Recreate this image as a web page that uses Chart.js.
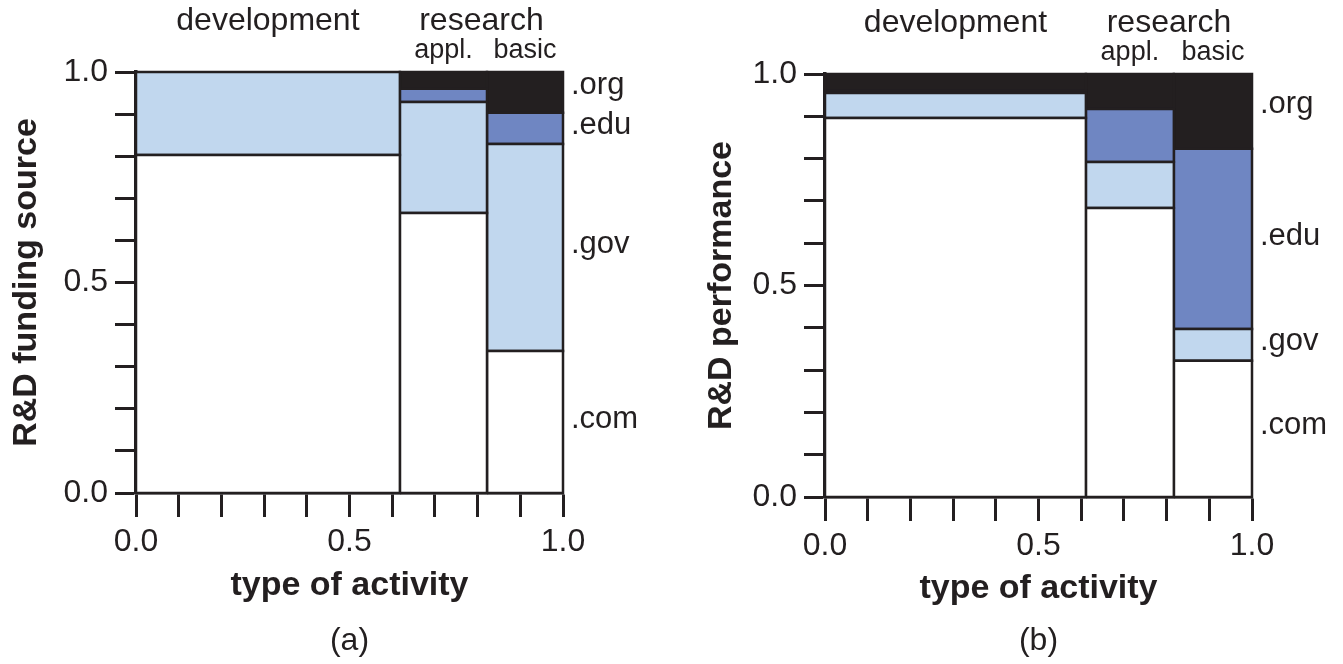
<!DOCTYPE html>
<html>
<head>
<meta charset="utf-8">
<script src="https://cdn.jsdelivr.net/npm/chart.js@4/dist/chart.umd.min.js"></script>
<style>
  html, body { margin: 0; padding: 0; background: #ffffff; }
  body { width: 1343px; height: 664px; position: relative; overflow: hidden; }
  .panel { position: absolute; top: 0; }
</style>
</head>
<body>
<div class="panel" style="left:0px;"><canvas id="chartA" width="660" height="664"></canvas></div>
<div class="panel" style="left:689px;"><canvas id="chartB" width="654" height="664"></canvas></div>
<script>
// column labels and sector names
const activities = ['development', 'appl.', 'basic'];
const researchLabel = 'research';
const sectors = ['.com', '.gov', '.edu', '.org'];
const sectorColors = ['#ffffff', '#c1d7ee', '#6f86c2', '#231f20'];
const tickValues = [0, 0.1, 0.2, 0.3, 0.4, 0.5, 0.6, 0.7, 0.8, 0.9, 1.0];
const tickLabels = ['0.0', '0.5', '1.0'];

// (a) R&D funding source - column widths and share of each sector
const fundingWidth = [0.618, 0.204, 0.178];
const fundingCom = [0.803, 0.665, 0.337];
const fundingGov = [0.197, 0.264, 0.492];
const fundingEdu = [0.000, 0.031, 0.074];
const fundingOrg = [0.000, 0.040, 0.097];

// (b) R&D performance
const perfWidth = [0.611, 0.206, 0.183];
const perfCom = [0.896, 0.683, 0.322];
const perfGov = [0.059, 0.109, 0.075];
const perfEdu = [0.005, 0.125, 0.426];
const perfOrg = [0.040, 0.083, 0.177];

const ink = '#231f20';
const fontFamily = '"Liberation Sans", Arial, Helvetica, sans-serif';

function buildDatasets(widths, shares) {
    let datasets = [];
    let x0 = 0;
    widths.forEach((w, col) => {
        let x1 = x0 + w;
        let y0 = 0;
        shares.forEach((series, s) => {
            let v = series[col];
            let y1 = y0 + v;
            if (v > 0) {
                datasets.push({
                    label: activities[col] + ' ' + sectors[s],
                    data: [
                        {x: x0, y: y0}, {x: x0, y: y1}, {x: x1, y: y1},
                        {x: x1, y: y0}, {x: x0, y: y0}
                    ],
                    fill: 'shape',
                    backgroundColor: sectorColors[s],
                    borderColor: s === 3 ? sectorColors[s] : ink,
                    borderWidth: 2.5,
                    pointRadius: 0,
                    tension: 0,
                    clip: 3
                });
            }
            y0 = y1;
        });
        x0 = x1;
    });
    return datasets;
}

function makePanel(id, cfg) {
    const labelPlugin = {
        id: 'mosaicLabels',
        afterDraw(chart) {
            const ctx = chart.ctx;
            const area = chart.chartArea;
            const xs = chart.scales.x;
            const ys = chart.scales.y;
            ctx.save();
            ctx.fillStyle = ink;
            ctx.textAlign = 'center';
            ctx.textBaseline = 'alphabetic';

            // column names above the plot
            let edges = [0];
            cfg.widths.forEach(w => edges.push(edges[edges.length - 1] + w));
            ctx.font = '32px ' + fontFamily;
            ctx.fillText(activities[0], xs.getPixelForValue((edges[0] + edges[1]) / 2), area.top - 42);
            ctx.fillText(researchLabel, xs.getPixelForValue((edges[1] + edges[3]) / 2), area.top - 42);
            ctx.font = '27px ' + fontFamily;
            ctx.fillText(activities[1], xs.getPixelForValue((edges[1] + edges[2]) / 2), area.top - 14);
            ctx.fillText(activities[2], xs.getPixelForValue((edges[2] + edges[3]) / 2), area.top - 14);

            // sector names beside the last column
            ctx.textAlign = 'left';
            ctx.textBaseline = 'middle';
            ctx.font = '31px ' + fontFamily;
            let y0 = 0;
            cfg.shares.forEach((series, s) => {
                let v = series[series.length - 1];
                let shift = s === 3 ? -7 : -3;
                ctx.fillText(sectors[s], area.right + 8, ys.getPixelForValue(y0 + v / 2) + shift);
                y0 += v;
            });

            // panel letter
            ctx.textAlign = 'center';
            ctx.font = '32px ' + fontFamily;
            ctx.fillText(cfg.letter, (area.left + area.right) / 2, 641);
            ctx.restore();
        }
    };

    const tickCallback = function(value) {
        let hit = tickLabels.find(t => Math.abs(parseFloat(t) - value) < 1e-6);
        return hit ? hit : '';
    };

    const canvas = document.getElementById(id);
    return new Chart(canvas.getContext('2d'), {
        type: 'line',
        data: { datasets: buildDatasets(cfg.widths, cfg.shares) },
        options: {
            responsive: false,
            animation: false,
            events: [],
            layout: { padding: { top: cfg.top, right: canvas.width - cfg.right, left: 0, bottom: 0 } },
            plugins: { legend: { display: false }, tooltip: { enabled: false } },
            scales: {
                x: {
                    type: 'linear',
                    min: 0,
                    max: 1,
                    afterBuildTicks: scale => { scale.ticks = tickValues.map(v => ({value: v})); },
                    afterFit: scale => { scale.height = canvas.height - cfg.bottom; },
                    grid: { drawOnChartArea: false, drawTicks: true, tickLength: 24, tickWidth: 3, tickColor: ink },
                    border: { display: true, width: 3.5, color: ink },
                    ticks: {
                        autoSkip: false, maxRotation: 0, padding: 6, color: ink,
                        font: { size: 32, family: fontFamily },
                        callback: tickCallback
                    },
                    title: {
                        display: true, text: 'type of activity', color: ink,
                        font: { size: 34, weight: 'bold', family: fontFamily },
                        padding: { top: 0, bottom: cfg.xTitlePad }
                    }
                },
                y: {
                    type: 'linear',
                    min: 0,
                    max: 1,
                    afterBuildTicks: scale => { scale.ticks = tickValues.map(v => ({value: v})); },
                    afterFit: scale => { scale.width = cfg.left; },
                    grid: { drawOnChartArea: false, drawTicks: true, tickLength: 21, tickWidth: 3, tickColor: ink },
                    border: { display: true, width: 3.5, color: ink },
                    ticks: {
                        autoSkip: false, padding: 7, color: ink,
                        font: { size: 32, family: fontFamily },
                        callback: tickCallback
                    },
                    title: {
                        display: true, text: cfg.yTitle, color: ink,
                        font: { size: 34, weight: 'bold', family: fontFamily },
                        padding: { top: cfg.yTitlePad, bottom: 0 }
                    }
                }
            }
        },
        plugins: [labelPlugin]
    });
}

makePanel('chartA', {
    widths: fundingWidth,
    shares: [fundingCom, fundingGov, fundingEdu, fundingOrg],
    yTitle: 'R&D funding source',
    letter: '(a)',
    left: 136, right: 563, top: 72, bottom: 493,
    xTitlePad: 58, yTitlePad: 6
});

makePanel('chartB', {
    widths: perfWidth,
    shares: [perfCom, perfGov, perfEdu, perfOrg],
    yTitle: 'R&D performance',
    letter: '(b)',
    left: 136, right: 563, top: 74, bottom: 497,
    xTitlePad: 55, yTitlePad: 12
});
</script>
</body>
</html>
